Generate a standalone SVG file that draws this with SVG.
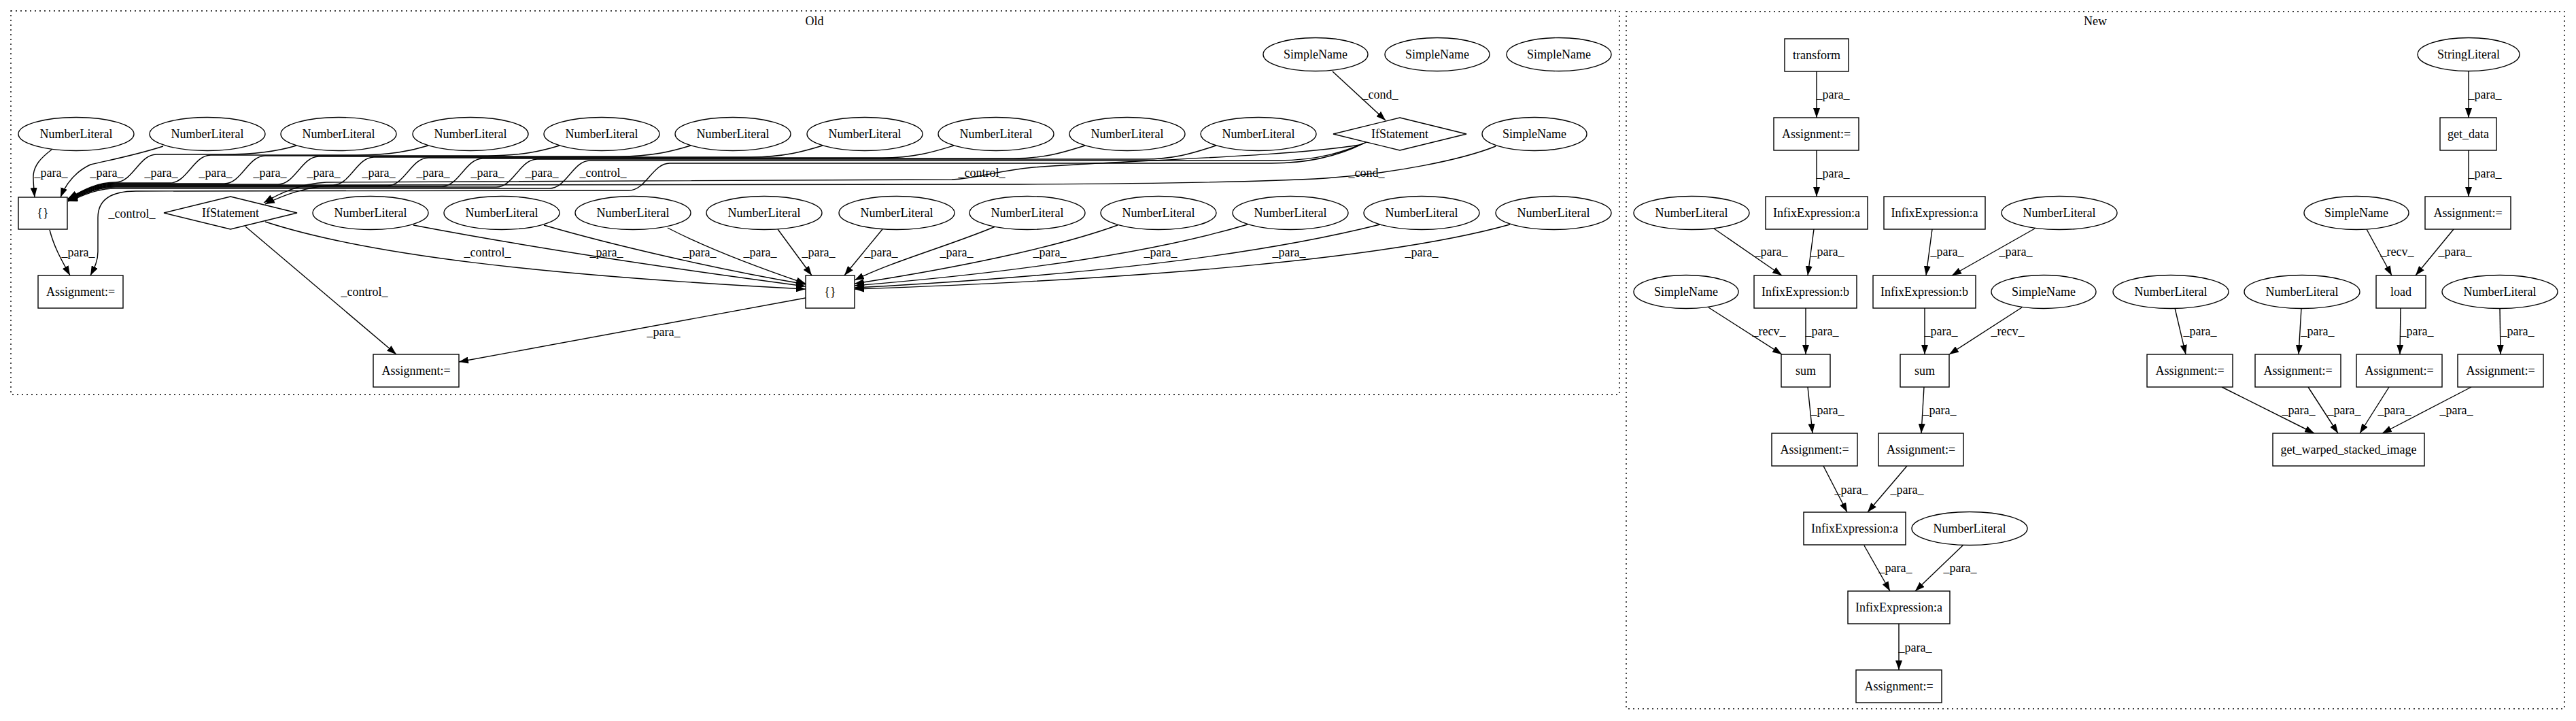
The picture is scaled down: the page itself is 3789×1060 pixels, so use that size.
<svg xmlns="http://www.w3.org/2000/svg" width="3789" height="1060" viewBox="0 0 3789 1060">
<defs>
<marker id="arr" markerUnits="userSpaceOnUse" markerWidth="14" markerHeight="10" refX="14" refY="5" orient="auto"><path d="M0,0 L14,5 L0,10 z" fill="#000"/></marker>
<style>
text{font-family:"Liberation Serif","Times New Roman",serif;font-size:18px;fill:#000;text-anchor:middle}
.n{fill:#fff;stroke:#000;stroke-width:1.4}
.e{fill:none;stroke:#000;stroke-width:1.4;marker-end:url(#arr)}
.c{fill:none;stroke:#000;stroke-width:1.4;stroke-dasharray:2,5}
</style>
</defs>
<rect width="3789" height="1060" fill="#fff"/>
<g id="cluster_old"><rect class="c" x="16" y="16" width="2366" height="564"/><text x="1198" y="37">Old</text></g>
<g id="cluster_new"><rect class="c" x="2392" y="17" width="1380" height="1025"/><text x="3082" y="37">New</text></g>
<g id="edges">
<path class="e" d="M1960,105 L2038,177"/><text x="2030" y="145">_cond_</text>
<path class="e" d="M76,220 C60,232 49,244 49,260 C49,270 50,280 51,290"/>
<path class="e" d="M240,215 C200,228 158,236 133,242 C112,252 97,270 89,290"/>
<path class="e" d="M436,214 C410,222 380,227 330,227 L230,227 C205,227 195,268 170,268 C140,268 118,282 100,292"/>
<path class="e" d="M630,214 C604,222 574,228 524,228 L310,228 C285,228 275,269 250,269 L170,269 C140,269 118,283 100,292"/>
<path class="e" d="M823,214 C797,222 767,229 717,229 L390,229 C365,229 355,270 330,270 L170,270 C140,270 118,284 100,293"/>
<path class="e" d="M1016,214 C990,222 960,230 910,230 L469,230 C444,230 434,271 409,271 L170,271 C140,271 118,285 100,293"/>
<path class="e" d="M1210,214 C1184,222 1154,231 1104,231 L550,231 C525,231 515,272 490,272 L170,272 C140,272 118,286 100,294"/>
<path class="e" d="M1403,214 C1377,222 1347,232 1297,232 L630,232 C605,232 595,273 570,273 L170,273 C140,273 118,287 100,294"/>
<path class="e" d="M1596,214 C1570,222 1540,233 1490,233 L710,233 C685,233 675,274 650,274 L170,274 C140,274 118,288 100,295"/>
<path class="e" d="M1789,214 C1763,222 1733,234 1683,234 L790,234 C765,234 755,275 730,275 L170,275 C140,275 118,289 100,295"/>
<path class="e" d="M2010,209 C1980,222 1940,236 1880,236 L868,236 C843,236 833,277 808,277 L170,277 C140,277 118,290 100,296"/>
<path class="e" d="M2005,211 C1975,226 1930,240 1870,240 L985,240 C960,240 950,280 925,280 L200,281 C165,281 144,292 144,320 L144,370 C144,385 138,395 133,405"/>
<path class="e" d="M2000,213 C1900,230 1650,236 1520,246 C1460,252 1440,262 1400,264 L480,268 C440,270 410,285 388,298"/>
<path class="e" d="M2200,215 C2150,235 2050,255 1950,262 C1850,268 1700,270 1500,271 L500,272 C450,273 415,288 390,300"/>
<text x="75" y="260">_para_</text><text x="157" y="260">_para_</text><text x="237" y="260">_para_</text><text x="317" y="260">_para_</text><text x="397" y="260">_para_</text><text x="476" y="260">_para_</text><text x="557" y="260">_para_</text><text x="637" y="260">_para_</text><text x="717" y="260">_para_</text><text x="797" y="260">_para_</text><text x="887" y="260">_control_</text>
<text x="194" y="320">_control_</text><text x="1444" y="260">_control_</text><text x="2010" y="260">_cond_</text>
<path class="e" d="M73,338 C80,365 92,385 103,405"/><text x="115" y="377">_para_</text>
<path class="e" d="M390,326 C540,375 800,405 1185,425"/><text x="717" y="377">_control_</text>
<path class="e" d="M608,331 C750,358 950,390 1185,421"/><text x="892" y="377">_para_</text>
<path class="e" d="M800,331 C900,360 1050,395 1185,418"/><text x="1029" y="377">_para_</text>
<path class="e" d="M982,335 C1040,365 1120,395 1185,417"/><text x="1118" y="377">_para_</text>
<path class="e" d="M1144,337 L1194,405"/><text x="1204" y="377">_para_</text>
<path class="e" d="M1298,337 L1242,405"/><text x="1296" y="377">_para_</text>
<path class="e" d="M1464,333 C1400,360 1310,385 1257,412"/><text x="1407" y="377">_para_</text>
<path class="e" d="M1644,331 C1550,365 1400,395 1257,417"/><text x="1544" y="377">_para_</text>
<path class="e" d="M1835,330 C1700,370 1500,400 1257,420"/><text x="1707" y="377">_para_</text>
<path class="e" d="M2030,330 C1850,375 1600,405 1257,423"/><text x="1896" y="377">_para_</text>
<path class="e" d="M2221,330 C2050,378 1700,410 1257,425"/><text x="2091" y="377">_para_</text>
<path class="e" d="M1185,438 L675,532"/><text x="976" y="494">_para_</text>
<path class="e" d="M361,333 L583,521"/><text x="536" y="435">_control_</text>
<path class="e" d="M2672,105 L2672,173"/><text x="2696" y="145">_para_</text>
<path class="e" d="M2672,221 L2672,289"/><text x="2696" y="261">_para_</text>
<path class="e" d="M2521,336 L2621,405"/><text x="2605" y="376">_para_</text>
<path class="e" d="M2668,337 L2659,405"/><text x="2688" y="376">_para_</text>
<path class="e" d="M2842,337 L2833,405"/><text x="2864" y="376">_para_</text>
<path class="e" d="M2993,336 L2871,405"/><text x="2965" y="376">_para_</text>
<path class="e" d="M2513,452 L2621,521"/><text x="2602" y="493">_recv_</text>
<path class="e" d="M2656,453 L2656,521"/><text x="2680" y="493">_para_</text>
<path class="e" d="M2831,453 L2831,521"/><text x="2855" y="493">_para_</text>
<path class="e" d="M2974,452 L2867,521"/><text x="2953" y="493">_recv_</text>
<path class="e" d="M2659,569 L2666,637"/><text x="2688" y="609">_para_</text>
<path class="e" d="M2830,569 L2826,637"/><text x="2853" y="609">_para_</text>
<path class="e" d="M2682,685 L2717,753"/><text x="2723" y="726">_para_</text>
<path class="e" d="M2805,685 L2747,753"/><text x="2805" y="726">_para_</text>
<path class="e" d="M2742,802 L2780,869"/><text x="2788" y="841">_para_</text>
<path class="e" d="M2888,801 L2817,869"/><text x="2883" y="841">_para_</text>
<path class="e" d="M2793,917 L2793,985"/><text x="2817" y="958">_para_</text>
<path class="e" d="M3631,104.5 L3631,173"/><text x="3655" y="145">_para_</text>
<path class="e" d="M3631,221 L3631,289"/><text x="3655" y="261">_para_</text>
<path class="e" d="M3481,337 L3518,405"/><text x="3526" y="376">_recv_</text>
<path class="e" d="M3609,337 L3553,405"/><text x="3611" y="376">_para_</text>
<path class="e" d="M3199,453 L3215,521"/><text x="3236" y="493">_para_</text>
<path class="e" d="M3385,453 L3381,521"/><text x="3409" y="493">_para_</text>
<path class="e" d="M3531,453 L3530,521"/><text x="3555" y="493">_para_</text>
<path class="e" d="M3677,453 L3678,521"/><text x="3703" y="493">_para_</text>
<path class="e" d="M3268,569 L3404,637"/><text x="3381" y="609">_para_</text>
<path class="e" d="M3395,569 L3439,637"/><text x="3448" y="609">_para_</text>
<path class="e" d="M3514,569 L3471,637"/><text x="3522" y="609">_para_</text>
<path class="e" d="M3635,569 L3504,637"/><text x="3613" y="609">_para_</text>
</g>
<g id="o_sn1"><ellipse class="n" cx="1935" cy="80" rx="77" ry="24.5"/><text x="1935" y="86">SimpleName</text></g>
<g id="o_sn2"><ellipse class="n" cx="2114" cy="80" rx="77" ry="24.5"/><text x="2114" y="86">SimpleName</text></g>
<g id="o_sn3"><ellipse class="n" cx="2293" cy="80" rx="77" ry="24.5"/><text x="2293" y="86">SimpleName</text></g>
<g id="o_nl1"><ellipse class="n" cx="112" cy="197" rx="85" ry="24.5"/><text x="112" y="203">NumberLiteral</text></g>
<g id="o_nl2"><ellipse class="n" cx="305" cy="197" rx="85" ry="24.5"/><text x="305" y="203">NumberLiteral</text></g>
<g id="o_nl3"><ellipse class="n" cx="498" cy="197" rx="85" ry="24.5"/><text x="498" y="203">NumberLiteral</text></g>
<g id="o_nl4"><ellipse class="n" cx="692" cy="197" rx="85" ry="24.5"/><text x="692" y="203">NumberLiteral</text></g>
<g id="o_nl5"><ellipse class="n" cx="885" cy="197" rx="85" ry="24.5"/><text x="885" y="203">NumberLiteral</text></g>
<g id="o_nl6"><ellipse class="n" cx="1078" cy="197" rx="85" ry="24.5"/><text x="1078" y="203">NumberLiteral</text></g>
<g id="o_nl7"><ellipse class="n" cx="1272" cy="197" rx="85" ry="24.5"/><text x="1272" y="203">NumberLiteral</text></g>
<g id="o_nl8"><ellipse class="n" cx="1465" cy="197" rx="85" ry="24.5"/><text x="1465" y="203">NumberLiteral</text></g>
<g id="o_nl9"><ellipse class="n" cx="1658" cy="197" rx="85" ry="24.5"/><text x="1658" y="203">NumberLiteral</text></g>
<g id="o_nl10"><ellipse class="n" cx="1851" cy="197" rx="85" ry="24.5"/><text x="1851" y="203">NumberLiteral</text></g>
<g id="o_if1"><polygon class="n" points="2059,173 2157,197 2059,221 1961,197"/><text x="2059" y="203">IfStatement</text></g>
<g id="o_sn4"><ellipse class="n" cx="2257" cy="197" rx="77" ry="24.5"/><text x="2257" y="203">SimpleName</text></g>
<g id="o_arr1"><rect class="n" x="27" y="290" width="72" height="47"/><text x="63" y="319">{}</text></g>
<g id="o_if2"><polygon class="n" points="339,289 437,313 339,337 241,313"/><text x="339" y="319">IfStatement</text></g>
<g id="o_nl11"><ellipse class="n" cx="545" cy="313" rx="85" ry="24.5"/><text x="545" y="319">NumberLiteral</text></g>
<g id="o_nl12"><ellipse class="n" cx="738" cy="313" rx="85" ry="24.5"/><text x="738" y="319">NumberLiteral</text></g>
<g id="o_nl13"><ellipse class="n" cx="931" cy="313" rx="85" ry="24.5"/><text x="931" y="319">NumberLiteral</text></g>
<g id="o_nl14"><ellipse class="n" cx="1124" cy="313" rx="85" ry="24.5"/><text x="1124" y="319">NumberLiteral</text></g>
<g id="o_nl15"><ellipse class="n" cx="1319" cy="313" rx="85" ry="24.5"/><text x="1319" y="319">NumberLiteral</text></g>
<g id="o_nl16"><ellipse class="n" cx="1511" cy="313" rx="85" ry="24.5"/><text x="1511" y="319">NumberLiteral</text></g>
<g id="o_nl17"><ellipse class="n" cx="1704" cy="313" rx="85" ry="24.5"/><text x="1704" y="319">NumberLiteral</text></g>
<g id="o_nl18"><ellipse class="n" cx="1898" cy="313" rx="85" ry="24.5"/><text x="1898" y="319">NumberLiteral</text></g>
<g id="o_nl19"><ellipse class="n" cx="2091" cy="313" rx="85" ry="24.5"/><text x="2091" y="319">NumberLiteral</text></g>
<g id="o_nl20"><ellipse class="n" cx="2285" cy="313" rx="85" ry="24.5"/><text x="2285" y="319">NumberLiteral</text></g>
<g id="o_asg1"><rect class="n" x="56" y="405" width="125" height="48"/><text x="118.5" y="435">Assignment:=</text></g>
<g id="o_arr2"><rect class="n" x="1185" y="405" width="72" height="48"/><text x="1221" y="435">{}</text></g>
<g id="o_asg2"><rect class="n" x="549" y="521" width="126" height="48"/><text x="612" y="551">Assignment:=</text></g>
<g id="n_transform"><rect class="n" x="2625" y="57" width="94" height="48"/><text x="2672" y="87">transform</text></g>
<g id="n_asg1"><rect class="n" x="2609" y="173" width="125" height="48"/><text x="2671.5" y="203">Assignment:=</text></g>
<g id="n_ia1"><rect class="n" x="2597" y="289" width="150" height="48"/><text x="2672" y="319">InfixExpression:a</text></g>
<g id="n_ia2"><rect class="n" x="2771" y="289" width="149" height="48"/><text x="2845.5" y="319">InfixExpression:a</text></g>
<g id="n_nl1"><ellipse class="n" cx="2488" cy="313" rx="85" ry="24.5"/><text x="2488" y="319">NumberLiteral</text></g>
<g id="n_nl2"><ellipse class="n" cx="3029" cy="313" rx="85" ry="24.5"/><text x="3029" y="319">NumberLiteral</text></g>
<g id="n_ib1"><rect class="n" x="2580" y="405" width="151" height="48"/><text x="2655.5" y="435">InfixExpression:b</text></g>
<g id="n_ib2"><rect class="n" x="2755" y="405" width="151" height="48"/><text x="2830.5" y="435">InfixExpression:b</text></g>
<g id="n_sn1"><ellipse class="n" cx="2480" cy="429" rx="77" ry="24.5"/><text x="2480" y="435">SimpleName</text></g>
<g id="n_sn2"><ellipse class="n" cx="3006" cy="429" rx="77" ry="24.5"/><text x="3006" y="435">SimpleName</text></g>
<g id="n_sum1"><rect class="n" x="2620" y="521" width="72" height="48"/><text x="2656" y="551">sum</text></g>
<g id="n_sum2"><rect class="n" x="2795" y="521" width="72" height="48"/><text x="2831" y="551">sum</text></g>
<g id="n_asg2"><rect class="n" x="2606" y="637" width="126" height="48"/><text x="2669" y="667">Assignment:=</text></g>
<g id="n_asg3"><rect class="n" x="2763" y="637" width="125" height="48"/><text x="2825.5" y="667">Assignment:=</text></g>
<g id="n_ia3"><rect class="n" x="2653" y="753" width="150" height="48"/><text x="2728" y="783">InfixExpression:a</text></g>
<g id="n_nl3"><ellipse class="n" cx="2897" cy="777" rx="85" ry="24.5"/><text x="2897" y="783">NumberLiteral</text></g>
<g id="n_ia4"><rect class="n" x="2718" y="869" width="150" height="48"/><text x="2793" y="899">InfixExpression:a</text></g>
<g id="n_asg4"><rect class="n" x="2730" y="985" width="126" height="48"/><text x="2793" y="1015">Assignment:=</text></g>
<g id="n_strlit"><ellipse class="n" cx="3631" cy="80" rx="75" ry="24.5"/><text x="3631" y="86">StringLiteral</text></g>
<g id="n_getdata"><rect class="n" x="3589" y="173" width="83" height="48"/><text x="3630.5" y="203">get_data</text></g>
<g id="n_asg5"><rect class="n" x="3567" y="289" width="126" height="48"/><text x="3630" y="319">Assignment:=</text></g>
<g id="n_sn3"><ellipse class="n" cx="3466" cy="313" rx="77" ry="24.5"/><text x="3466" y="319">SimpleName</text></g>
<g id="n_load"><rect class="n" x="3495" y="405" width="73" height="48"/><text x="3531.5" y="435">load</text></g>
<g id="n_nl4"><ellipse class="n" cx="3193" cy="429" rx="85" ry="24.5"/><text x="3193" y="435">NumberLiteral</text></g>
<g id="n_nl5"><ellipse class="n" cx="3386" cy="429" rx="85" ry="24.5"/><text x="3386" y="435">NumberLiteral</text></g>
<g id="n_nl6"><ellipse class="n" cx="3677" cy="429" rx="85" ry="24.5"/><text x="3677" y="435">NumberLiteral</text></g>
<g id="n_asg6"><rect class="n" x="3158" y="521" width="126" height="48"/><text x="3221" y="551">Assignment:=</text></g>
<g id="n_asg7"><rect class="n" x="3317" y="521" width="126" height="48"/><text x="3380" y="551">Assignment:=</text></g>
<g id="n_asg8"><rect class="n" x="3466" y="521" width="126" height="48"/><text x="3529" y="551">Assignment:=</text></g>
<g id="n_asg9"><rect class="n" x="3615" y="521" width="126" height="48"/><text x="3678" y="551">Assignment:=</text></g>
<g id="n_gwsi"><rect class="n" x="3343" y="637" width="223" height="48"/><text x="3454.5" y="667">get_warped_stacked_image</text></g>
</svg>
